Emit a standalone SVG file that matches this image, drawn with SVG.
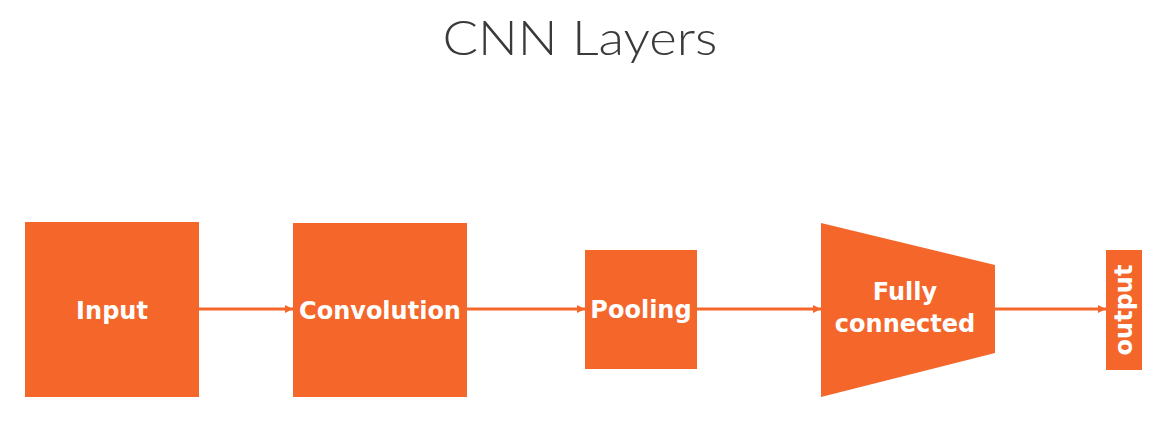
<svg xmlns="http://www.w3.org/2000/svg" width="1167" height="423" viewBox="0 0 1167 423">
  <defs>
    <marker id="arrow" markerWidth="10" markerHeight="10" refX="9" refY="5" orient="auto" markerUnits="userSpaceOnUse">
      <path d="M1,1 L9,5 L1,9 Z" fill="#F4662A"/>
    </marker>
    <style>
      .box { fill: #F4662A; }
      .lbl { font-family: "DejaVu Sans", "Liberation Sans", sans-serif; font-weight: bold; font-size: 24px; fill: #FFFFFF; text-anchor: middle; }
      .conn { stroke: #F4662A; stroke-width: 3; fill: none; marker-end: url(#arrow); }
      .title { font-family: "Lato", "Liberation Sans", sans-serif; font-weight: 300; font-size: 48px; fill: #3A3A3A; text-anchor: middle; }
    </style>
  </defs>
  <rect width="1167" height="423" fill="#FFFFFF"/>
  <text class="title" x="580" y="55" textLength="275" lengthAdjust="spacingAndGlyphs">CNN Layers</text>
  <g id="connectors">
    <line class="conn" x1="199" y1="309" x2="293" y2="309"/>
    <line class="conn" x1="467" y1="309" x2="585" y2="309"/>
    <line class="conn" x1="697" y1="309" x2="821" y2="309"/>
    <line class="conn" x1="995" y1="309" x2="1106" y2="309"/>
  </g>
  <g id="input">
    <rect class="box" x="25" y="222" width="174" height="175"/>
    <text class="lbl" x="112" y="319">Input</text>
  </g>
  <g id="convolution">
    <rect class="box" x="293" y="223" width="174" height="174"/>
    <text class="lbl" x="380" y="319">Convolution</text>
  </g>
  <g id="pooling">
    <rect class="box" x="585" y="250" width="112" height="119"/>
    <text class="lbl" x="641" y="318">Pooling</text>
  </g>
  <g id="fully-connected">
    <polygon class="box" points="821,223 995,265 995,353 821,397"/>
    <text class="lbl" x="905" y="300">Fully</text>
    <text class="lbl" x="905" y="332">connected</text>
  </g>
  <g id="output">
    <rect class="box" x="1106" y="250" width="36" height="120"/>
    <text class="lbl" x="0" y="0" transform="translate(1132,310) rotate(-90)">output</text>
  </g>
</svg>
